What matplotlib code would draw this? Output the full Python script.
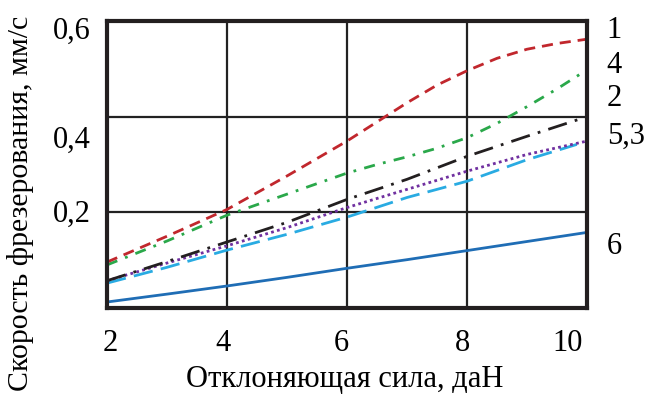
import matplotlib
matplotlib.use("Agg")
import matplotlib.pyplot as plt
import matplotlib.transforms as mtransforms

plt.rcParams['font.family'] = ['Liberation Serif', 'DejaVu Serif']

# Отклоняющая сила, даН
force = [2, 3, 4, 5, 6, 7, 8, 9, 10]
force_fine = [2, 3, 4, 5, 6, 6.5, 7, 7.5, 8, 8.5, 9, 9.5, 10]

# Скорость фрезерования, мм/с (кривые 1..6)
curve1 = [0.096, 0.150, 0.206, 0.276, 0.349, 0.389, 0.429, 0.466, 0.496,
          0.522, 0.541, 0.553, 0.562]
curve4 = [0.090, 0.140, 0.194, 0.238, 0.282, 0.300, 0.316, 0.334, 0.356,
          0.386, 0.421, 0.458, 0.498]
curve2 = [0.057, 0.097, 0.138, 0.179, 0.227, 0.269, 0.317, 0.359, 0.397]
curve5 = [0.057, 0.094, 0.130, 0.168, 0.210, 0.248, 0.286, 0.321, 0.349]
curve3 = [0.052, 0.085, 0.121, 0.154, 0.190, 0.231, 0.265, 0.310, 0.345]
curve6 = [0.0125, 0.029, 0.046, 0.064, 0.083, 0.101, 0.120, 0.139, 0.158]

x_ticks = [2, 4, 6, 8, 10]
y_ticks = [0.2, 0.4, 0.6]
y_tick_labels = ['0,2', '0,4', '0,6']

right_labels = ['1', '4', '2', '5,3', '6']
right_label_y = [0.581, 0.508, 0.4375, 0.358, 0.129]

fig = plt.figure(figsize=(6.46, 3.94), dpi=100)
ax = fig.add_axes([0.1656, 0.2183, 0.7431, 0.7284])

ax.plot(force, curve6, color='#1f6db5', lw=2, solid_capstyle='butt')
ax.plot(force[:-1] + [9.83], curve3[:-1] + [0.342], color='#29abe2', lw=2,
        dashes=(7, 3))
ax.plot(force, curve5, color='#7030a0', lw=2, dashes=(1, 1.2))
ax.plot(force[:-1] + [9.88], curve2[:-1] + [0.395], color='#231f20', lw=2,
        dashes=(7, 3, 1, 3))
ax.plot(force_fine, curve4, color='#2aa84a', lw=2, dashes=(4, 3, 1, 3))
ax.plot(force_fine, curve1, color='#c1272d', lw=2, dashes=(4, 2.5))

ax.set_xlim(2, 10)
ax.set_ylim(0, 0.6)
ax.set_xticks(x_ticks)
ax.set_yticks(y_ticks)
ax.set_yticklabels(y_tick_labels)
ax.grid(True, color='#222222', lw=1.6)
ax.set_axisbelow(True)
ax.tick_params(length=0, labelsize=22, pad=12)
ax.tick_params(axis='x', pad=15)
for s in ax.spines.values():
    s.set_linewidth(3)
    s.set_color('#231f20')

# shift tick labels like in the original
x_shift = [3, -4, -6, -5, -19]
for lbl, dx in zip(ax.get_xticklabels(), x_shift):
    lbl.set_transform(lbl.get_transform() +
                      mtransforms.ScaledTranslation(dx / 100, 0, fig.dpi_scale_trans))
y_shift = [1, -20, -7]
for lbl, dy in zip(ax.get_yticklabels(), y_shift):
    lbl.set_transform(lbl.get_transform() +
                      mtransforms.ScaledTranslation(0, dy / 100, fig.dpi_scale_trans))

for txt, yv in zip(right_labels, right_label_y):
    ax.text(10.33, yv, txt, fontsize=22, ha='left', va='center', clip_on=False)

fig.text(0.534, 0.036, 'Отклоняющая сила, даН', fontsize=22, ha='center', va='center')
fig.text(0.031, 0.485, 'Скорость фрезерования, мм/с', fontsize=21.5, ha='center',
         va='center', rotation=90)

fig.savefig('out.png', dpi=100)
